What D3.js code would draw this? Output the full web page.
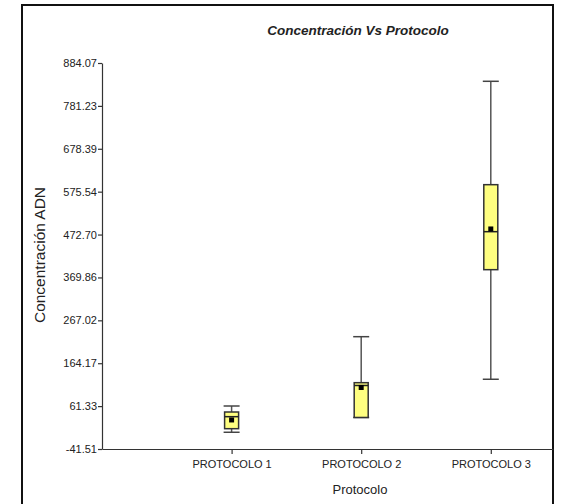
<!DOCTYPE html>
<html>
<head>
<meta charset="utf-8">
<script src="https://cdn.jsdelivr.net/npm/d3@7"></script>
<style>
  body { margin: 0; background: #fff; }
  svg { display: block; font-family: "Liberation Sans", Arial, sans-serif; }
</style>
</head>
<body>
<svg id="chart" width="562" height="504"></svg>
<script>
const categories = ["PROTOCOLO 1", "PROTOCOLO 2", "PROTOCOLO 3"];
const whiskerLow  = [-1.4, 34.1, 125.7];
const q1          = [7.2, 34.1, 388.5];
const median      = [36.0, 110.8, 479.6];
const q3          = [47.2, 117.5, 592.3];
const whiskerHigh = [61.6, 227.8, 840.2];
const means       = [28.1, 106.0, 486.1];
const yTicks = [-41.51, 61.33, 164.17, 267.02, 369.86, 472.70, 575.54, 678.39, 781.23, 884.07];

const svg = d3.select("#chart");

// frame
svg.append("rect")
  .attr("x", 22).attr("y", 5)
  .attr("width", 531).attr("height", 510)
  .attr("fill", "none").attr("stroke", "#111").attr("stroke-width", 2);

const x = d3.scaleLinear().domain([0, 3.48]).range([102, 553]);
const y = d3.scaleLinear().domain([-41.51, 884.07]).range([449, 63]);

const yAxis = svg.append("g")
  .attr("transform", "translate(102,0)")
  .call(d3.axisLeft(y).tickValues(yTicks).tickSize(4).tickSizeOuter(0)
    .tickFormat(d => d.toFixed(2)));

const xAxis = svg.append("g")
  .attr("transform", "translate(0,449)")
  .call(d3.axisBottom(x).tickValues([1, 2, 3]).tickSize(5).tickSizeOuter(0)
    .tickFormat(d => categories[d - 1]));

[yAxis, xAxis].forEach(g => {
  g.selectAll("path, line").attr("stroke", "#333").attr("stroke-width", 1.2);
  g.selectAll("text").attr("fill", "#222").style("font-size", "11px");
});
yAxis.selectAll("text").attr("x", -5);
xAxis.selectAll("text").attr("y", 11);

// boxes
const boxW = 14, capW = 16;
const boxes = svg.append("g").selectAll("g")
  .data(categories.map((c, i) => ({ i, pos: i + 1 })))
  .join("g");

boxes.append("line")
  .attr("x1", d => x(d.pos)).attr("x2", d => x(d.pos))
  .attr("y1", d => y(whiskerLow[d.i])).attr("y2", d => y(whiskerHigh[d.i]))
  .attr("stroke", "#555").attr("stroke-width", 1.5);

boxes.selectAll(".cap")
  .data(d => [whiskerLow[d.i], whiskerHigh[d.i]].map(v => ({ pos: d.pos, v })))
  .join("line")
  .attr("x1", d => x(d.pos) - capW / 2).attr("x2", d => x(d.pos) + capW / 2)
  .attr("y1", d => y(d.v)).attr("y2", d => y(d.v))
  .attr("stroke", "#444").attr("stroke-width", 1.5);

boxes.append("rect")
  .attr("x", d => x(d.pos) - boxW / 2)
  .attr("y", d => y(q3[d.i]))
  .attr("width", boxW)
  .attr("height", d => y(q1[d.i]) - y(q3[d.i]))
  .attr("fill", "#ffff80").attr("stroke", "#333").attr("stroke-width", 1.5);

boxes.append("line")
  .attr("x1", d => x(d.pos) - boxW / 2).attr("x2", d => x(d.pos) + boxW / 2)
  .attr("y1", d => y(median[d.i])).attr("y2", d => y(median[d.i]))
  .attr("stroke", "#222").attr("stroke-width", 1.5);

boxes.append("rect")
  .attr("x", d => x(d.pos) - 2.5)
  .attr("y", d => y(means[d.i]) - 2.5)
  .attr("width", 5).attr("height", 5)
  .attr("fill", "#000");

// titles
svg.append("text")
  .attr("x", 358).attr("y", 35)
  .attr("text-anchor", "middle")
  .style("font-size", "13.5px").style("font-weight", "bold").style("font-style", "italic")
  .attr("fill", "#222")
  .text("Concentración Vs Protocolo");

svg.append("text")
  .attr("x", 360).attr("y", 494)
  .attr("text-anchor", "middle")
  .style("font-size", "13px")
  .attr("fill", "#222")
  .text("Protocolo");

svg.append("text")
  .attr("transform", "translate(45,255) rotate(-90)")
  .attr("text-anchor", "middle")
  .style("font-size", "15.5px")
  .attr("fill", "#222")
  .text("Concentración ADN");
</script>
</body>
</html>
